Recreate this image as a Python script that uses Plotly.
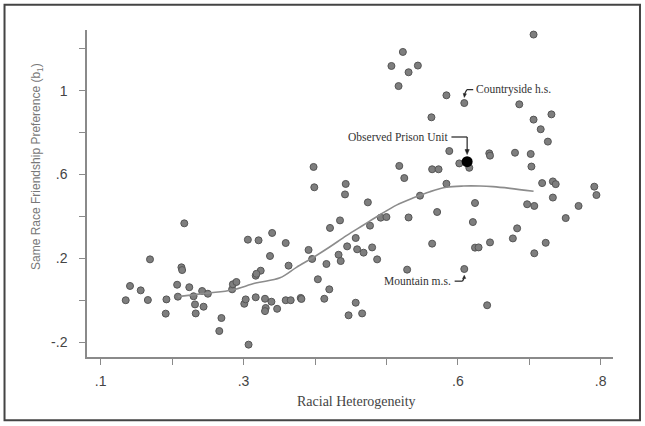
import plotly.graph_objects as go

# Racial heterogeneity (x) and same-race friendship preference (y) per unit
heterogeneity = [
    0.135, 0.141, 0.156, 0.166, 0.169, 0.192, 0.191, 0.207, 0.208, 0.213,
    0.214, 0.217, 0.224, 0.230, 0.232, 0.233, 0.242, 0.244, 0.250, 0.269,
    0.266, 0.307, 0.284, 0.285, 0.290, 0.301, 0.303, 0.306, 0.321, 0.340,
    0.337, 0.324, 0.317, 0.318, 0.317, 0.330, 0.331, 0.330, 0.339, 0.347,
    0.359, 0.363, 0.359, 0.366, 0.380, 0.381, 0.391, 0.396, 0.398, 0.399,
    0.404, 0.413, 0.420, 0.416, 0.421, 0.433, 0.435, 0.436, 0.442, 0.443,
    0.445, 0.447, 0.457, 0.457, 0.459, 0.466, 0.468, 0.474, 0.477, 0.480,
    0.487, 0.492, 0.500, 0.507, 0.517, 0.518, 0.523, 0.525, 0.529, 0.531,
    0.531, 0.544, 0.547, 0.563, 0.564, 0.573, 0.564, 0.571, 0.584, 0.584,
    0.588, 0.602, 0.609, 0.609, 0.616, 0.621, 0.624, 0.624, 0.629, 0.641,
    0.644, 0.645, 0.645, 0.677, 0.683, 0.680, 0.686, 0.697, 0.702, 0.703,
    0.706, 0.706, 0.707, 0.707, 0.716, 0.718, 0.723, 0.726, 0.731, 0.733,
    0.737, 0.733, 0.751, 0.769, 0.791, 0.794,
]
preference = [
    0.000, 0.068, 0.047, 0.001, 0.195, 0.004, -0.064, 0.074, 0.017, 0.157,
    0.144, 0.367, 0.062, 0.019, -0.020, -0.063, 0.044, -0.031, 0.031, -0.085,
    -0.147, -0.212, 0.052, 0.076, 0.087, -0.017, 0.004, 0.289, 0.286, 0.321,
    0.211, 0.141, 0.117, 0.126, 0.014, 0.007, -0.037, -0.052, -0.007, -0.041,
    0.273, 0.165, 0.000, 0.000, 0.011, 0.006, 0.240, 0.197, 0.636, 0.539,
    0.100, 0.007, 0.052, 0.173, 0.345, 0.217, 0.381, 0.187, 0.505, 0.555,
    0.257, -0.072, 0.297, -0.012, 0.243, -0.063, 0.227, 0.467, 0.356, 0.252,
    0.195, 0.394, 0.397, 1.118, 1.022, 0.641, 1.185, 0.583, 0.146, 0.395,
    1.088, 1.120, 0.499, 0.873, 0.625, 0.625, 0.270, 0.421, 0.978, 0.556,
    0.712, 0.653, 0.941, 0.149, 0.632, 0.373, 0.464, 0.251, 0.252, -0.024,
    0.701, 0.690, 0.276, 0.295, 0.343, 0.704, 0.935, 0.458, 0.698, 0.638,
    1.268, 0.862, 0.450, 0.224, 0.816, 0.559, 0.274, 0.757, 0.887, 0.567,
    0.554, 0.490, 0.392, 0.450, 0.542, 0.502,
]

# Observed prison unit
prison_x = [0.613]
prison_y = [0.661]

# Smoothed fit
fit_x = [0.208, 0.249, 0.284, 0.317, 0.351, 0.374, 0.398, 0.421, 0.444, 0.468,
         0.491, 0.514, 0.538, 0.561, 0.584, 0.608, 0.631, 0.649, 0.673, 0.706]
fit_y = [0.017, 0.034, 0.049, 0.082, 0.107, 0.157, 0.205, 0.255, 0.308, 0.359,
         0.408, 0.454, 0.489, 0.518, 0.539, 0.545, 0.545, 0.542, 0.534, 0.520]

x_tickvals = [0.1, 0.3, 0.6, 0.8]
x_ticktext = [".1", ".3", ".6", ".8"]
y_tickvals = [-0.2, 0.2, 0.6, 1.0]
y_ticktext = ["-.2", ".2", ".6", "1"]

serif = "Liberation Serif, Times New Roman, serif"
sans = "Liberation Sans, Arial, sans-serif"
ink = "#222222"

fig = go.Figure()
fig.add_trace(go.Scatter(
    x=heterogeneity, y=preference, mode="markers",
    marker=dict(size=7, color="#7e7e7e", line=dict(color="#555555", width=1)),
    showlegend=False, hoverinfo="skip"))
fig.add_trace(go.Scatter(
    x=fit_x, y=fit_y, mode="lines", line=dict(color="#8c8c8c", width=1.6, shape="spline"),
    showlegend=False, hoverinfo="skip"))
fig.add_trace(go.Scatter(
    x=prison_x, y=prison_y, mode="markers",
    marker=dict(size=11, color="#000000"), showlegend=False, hoverinfo="skip"))

axis_common = dict(
    showgrid=False, zeroline=False, showline=True, linecolor="#8a8a8a", linewidth=1.5,
    ticks="outside", ticklen=6, tickwidth=1.2, tickcolor="#8a8a8a",
    tickfont=dict(family=sans, size=14, color="#444444"))


def seg(x0, y0, x1, y1):
    return dict(type="line", xref="x", yref="y", x0=x0, y0=y0, x1=x1, y1=y1,
                line=dict(color=ink, width=1.2))


def tri(path):
    return dict(type="path", xref="x", yref="y", path=path,
                fillcolor=ink, line=dict(color=ink, width=0.5))


fig.update_layout(
    width=645, height=426,
    margin=dict(l=87, r=32, t=30, b=69),
    paper_bgcolor="white", plot_bgcolor="white",
    xaxis=dict(range=[0.0808, 0.8172], tickmode="array", tickvals=x_tickvals,
               ticktext=x_ticktext, ticklabelstandoff=4,
               minor=dict(tick0=0.1, dtick=0.1, ticks="outside", ticklen=6,
                          tickwidth=1.2, tickcolor="#8a8a8a", showgrid=False),
               **axis_common),
    yaxis=dict(range=[-0.271, 1.2897], tickmode="array", tickvals=y_tickvals,
               ticktext=y_ticktext, ticklabelstandoff=9,
               minor=dict(tick0=0.0, dtick=0.2, ticks="outside", ticklen=6,
                          tickwidth=1.2, tickcolor="#8a8a8a", showgrid=False),
               **axis_common),
    shapes=[
        dict(type="rect", xref="paper", yref="paper", x0=-0.1568, x1=1.0513,
             y0=-0.1936, y1=1.0774, line=dict(color="#444444", width=2)),
        # Observed Prison Unit connector
        seg(0.591, 0.779, 0.613, 0.779),
        seg(0.613, 0.779, 0.613, 0.715),
        tri("M 0.610 0.719 L 0.616 0.719 L 0.613 0.695 Z"),
        # Countryside connector
        seg(0.6215, 1.005, 0.6125, 1.005),
        seg(0.6125, 1.005, 0.6095, 0.985),
        tri("M 0.6075 0.987 L 0.6120 0.985 L 0.6090 0.968 Z"),
        # Mountain connector
        seg(0.5955, 0.091, 0.6065, 0.091),
        seg(0.6065, 0.091, 0.6085, 0.104),
        tri("M 0.6065 0.102 L 0.6110 0.104 L 0.6090 0.119 Z"),
    ],
    annotations=[
        dict(text="Racial Heterogeneity", xref="paper", yref="paper",
             x=(356 - 87) / 526, y=(357 - 401) / 327, showarrow=False,
             font=dict(family=serif, size=14, color="#444444"), xanchor="center", yanchor="middle"),
        dict(text="Same Race Friendship Preference (b<sub>1</sub>)", xref="paper", yref="paper",
             x=(37 - 87) / 526, y=(357 - 167) / 327, showarrow=False, textangle=-90,
             font=dict(family=sans, size=12, color="#777777"), xanchor="center", yanchor="middle"),
        dict(text="Observed Prison Unit", xref="x", yref="y", x=0.589, y=0.779,
             showarrow=False, xanchor="right", yanchor="middle",
             font=dict(family=serif, size=11.5, color="#333333")),
        dict(text="Countryside h.s.", xref="x", yref="y", x=0.6225, y=1.005,
             showarrow=False, xanchor="left", yanchor="middle",
             font=dict(family=serif, size=11.5, color="#333333")),
        dict(text="Mountain m.s.", xref="x", yref="y", x=0.5935, y=0.091,
             showarrow=False, xanchor="right", yanchor="middle",
             font=dict(family=serif, size=11.5, color="#333333")),
    ],
)

fig.write_html("out.html", config={"displayModeBar": False},
               post_script="document.body.style.margin='0px';")
